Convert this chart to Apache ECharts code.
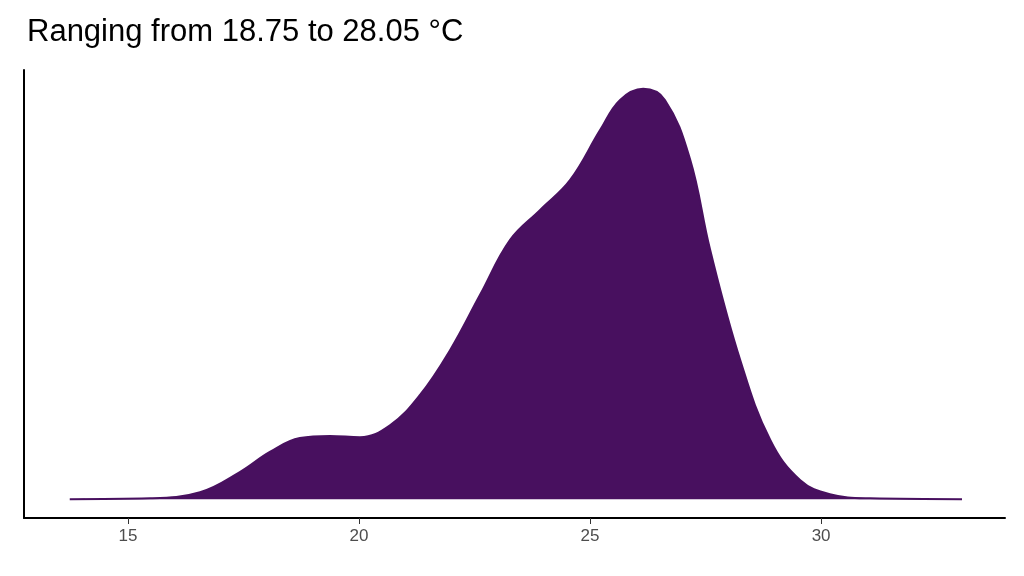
<!DOCTYPE html>
<html><head><meta charset="utf-8">
<script src="https://cdn.jsdelivr.net/npm/echarts@6/dist/echarts.min.js"></script>
<style>html,body{margin:0;background:#fff}#c{width:1024px;height:576px}</style>
</head><body><div id="c"></div>
<script>
const temps = [13.74,15.48,16.56,17.42,18.07,18.72,19.37,20.02,20.67,21.32,21.97,22.62,23.27,23.92,24.57,25.22,25.65,26.15,26.62,27.16,27.6,28.25,28.9,29.55,30.19,31.06,33.05];
const density = [0,0.002,0.017,0.066,0.115,0.149,0.154,0.151,0.18,0.254,0.363,0.498,0.632,0.705,0.778,0.9,0.973,1,0.973,0.83,0.607,0.339,0.144,0.046,0.012,0.002,0];
const xTicks = [15,20,25,30];
const chart = echarts.init(document.getElementById('c'));
chart.setOption({
  animation:false,
  title:{text:'Ranging from 18.75 to 28.05 °C',left:22,top:12,textStyle:{fontFamily:'Liberation Sans',fontSize:31,fontWeight:'normal',color:'#000'}},
  grid:{left:24,right:19,top:70,bottom:58},
  xAxis:{type:'value',min:12.75,max:33.98,interval:5,
    axisLine:{show:true,onZero:false,lineStyle:{color:'#000',width:2}},
    axisTick:{show:true,length:6,lineStyle:{color:'#333'},customValues:xTicks},
    axisLabel:{color:'#4d4d4d',fontSize:17,fontFamily:'Liberation Sans',margin:10,customValues:xTicks},
    splitLine:{show:false}},
  yAxis:{type:'value',min:-0.046,max:1.046,
    axisLine:{show:true,onZero:false,lineStyle:{color:'#000',width:2}},
    axisTick:{show:false},axisLabel:{show:false},splitLine:{show:false}},
  series:[{type:'line',smooth:0.4,symbol:'none',
    data:temps.map((t,i)=>[t,density[i]]),
    lineStyle:{color:'#48105F',width:2},
    areaStyle:{color:'#48105F',opacity:1,origin:0}}]
});
</script></body></html>
